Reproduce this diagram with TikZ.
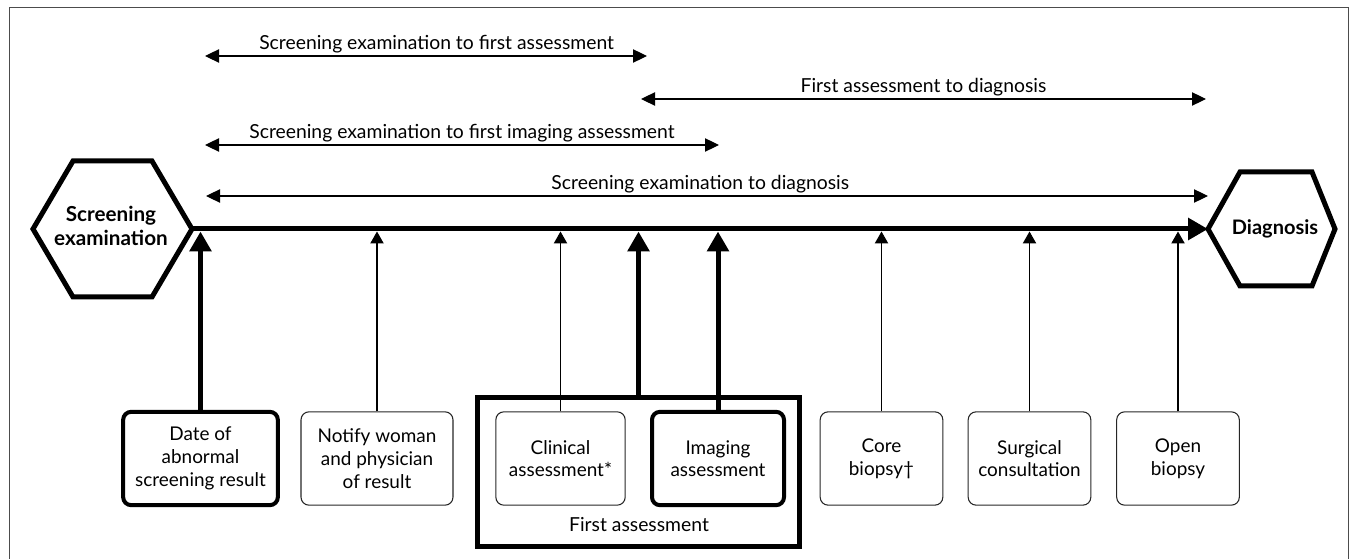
\documentclass[tikz,border=0pt]{standalone}
\usepackage{fontspec}
\setmainfont{Lato}
\usetikzlibrary{arrows.meta,positioning}

\tikzset{every picture/.style={line width=0.75pt}}
\tikzset{
  thinbox/.style={draw=black!85, line width=0.8pt, rounded corners=6pt, align=center,
    minimum height=70pt, inner sep=2pt, font=\fontsize{14.2}{17}\selectfont},
  thickbox/.style={thinbox, draw=black, line width=3pt},
  span/.style={{Triangle[length=10.5pt,width=10pt]}-{Triangle[length=10.5pt,width=10pt]}, line width=0.8pt},
  feed/.style={-{Triangle[length=9pt,width=10pt]}, line width=0.8pt},
  bigfeed/.style={-{Triangle[length=15pt,width=16pt]}, line width=3.75pt},
  hexa/.style={line width=3.75pt, line join=miter},
  lbl/.style={font=\fontsize{14.5}{17}\selectfont, inner sep=2pt}
}

\begin{document}
\begin{tikzpicture}[x=0.75pt,y=0.75pt,yscale=-1,xscale=1]
	\useasboundingbox (0,0) rectangle (1351,559);

	%Frame
	\draw [color=black!70] (9,565) -- (9,8) -- (1348,8) -- (1348,565);

	%Shape: Hexagons
	\draw [hexa] (33,229) -- (73,161) -- (152,161) -- (192,229) -- (152,297) -- (73,297) -- cycle;
	\draw [hexa] (1208,229) -- (1240,172) -- (1312,172) -- (1335,229) -- (1312,286) -- (1240,286) -- cycle;
	\node [font=\fontsize{15.5}{18.5}\selectfont\bfseries, align=center] (scr) at (111,226) {Screening\\examination};
	\node [font=\fontsize{15}{18}\selectfont\bfseries] (diag) at (1275,229) {Diagnosis};
	\coordinate (scrE) at (192,229);
	\coordinate (diagW) at (1208,229);
	\coordinate (tl) at (0,231.5);

	%Time line
	\draw [bigfeed] (scrE) -- (diagW);

	%Spans
	\coordinate (sfa1) at (205,56);   \coordinate (sfa2) at (647,56);
	\coordinate (fad1) at (641,99);   \coordinate (fad2) at (1206,99);
	\coordinate (sfi1) at (205,145);  \coordinate (sfi2) at (719,145);
	\coordinate (sd1) at (206,196);   \coordinate (sd2) at (1208,196);
	\draw [span] (sfa1) -- node [lbl, above, xshift=8pt] {Screening examination to first assessment} (sfa2);
	\draw [span] (fad1) -- node [lbl, above] {First assessment to diagnosis} (fad2);
	\draw [span] (sfi1) -- node [lbl, above] {Screening examination to first imaging assessment} (sfi2);
	\draw [span] (sd1) -- node [lbl, above, xshift=-5pt] {Screening examination to diagnosis} (sd2);

	%Boxes
	\node [draw, line width=3.75pt, minimum width=241pt, minimum height=112pt] (first) at (638.5,472) {};
	\node [lbl] (firstlbl) at (639,525) {First assessment};
	\node [thickbox, minimum width=116pt] (date) at (200.5,458.5) {Date of\\abnormal\\screening result};
	\node [thinbox, minimum width=114pt] (notify) at (377,458.5) {Notify woman\\and physician\\of result};
	\node [thinbox, minimum width=97pt] (clin) at (560.5,458.5) {Clinical\\assessment*};
	\node [thickbox, minimum width=99pt] (imag) at (718,458.5) {Imaging\\assessment};
	\node [thinbox, minimum width=92pt] (core) at (881.5,458.5) {Core\\biopsy\textdagger};
	\node [thinbox, minimum width=92pt] (surg) at (1029.5,458.5) {Surgical\\consultation};
	\node [thinbox, minimum width=92pt] (open) at (1178,458.5) {Open\\biopsy};

	%Feeds into the time line
	\draw [bigfeed] (date.north) -- (date.north |- tl);
	\draw [feed] (notify.north) -- (notify.north |- tl);
	\draw [feed] (clin.north) -- (clin.north |- tl);
	\draw [bigfeed] (first.north) -- (first.north |- tl);
	\draw [bigfeed] (imag.north) -- (imag.north |- tl);
	\draw [feed] (core.north) -- (core.north |- tl);
	\draw [feed] (surg.north) -- (surg.north |- tl);
	\draw [feed] (open.north) -- (open.north |- tl);

\end{tikzpicture}
\end{document}
